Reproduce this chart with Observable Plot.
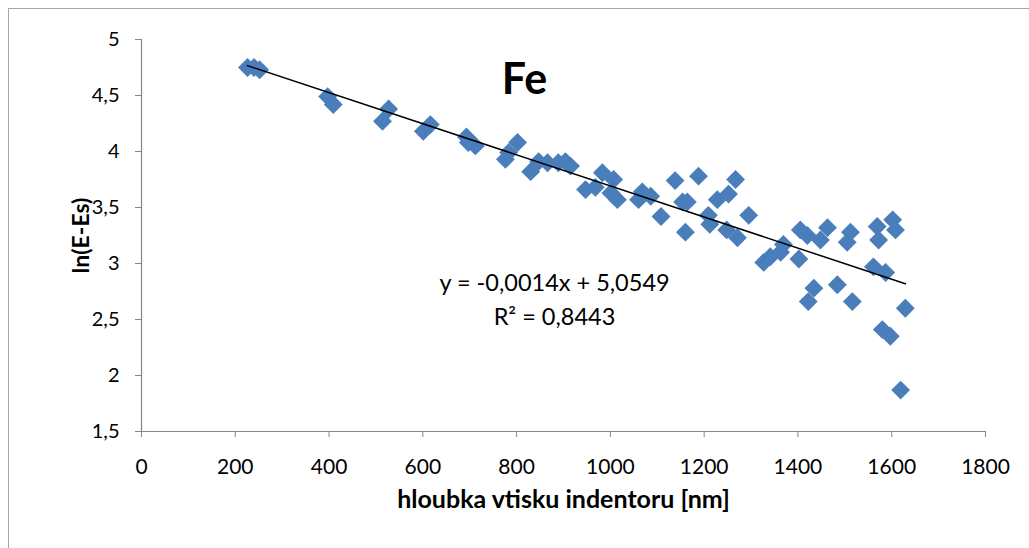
<!DOCTYPE html>
<html>
<head>
<meta charset="utf-8">
<script src="https://cdn.jsdelivr.net/npm/d3@7"></script>
<script src="https://cdn.jsdelivr.net/npm/@observablehq/plot@0.6"></script>
<style>
  html, body { margin: 0; padding: 0; background: #fff; }
  #wrap { position: relative; width: 1029px; height: 548px; overflow: hidden; }
  #frame { position: absolute; left: 8px; top: 8px; width: 1040px; height: 600px;
           border-left: 1px solid #a6a6a6; border-top: 1px solid #a6a6a6; pointer-events: none; }
</style>
</head>
<body>
<div id="wrap"><div id="frame"></div></div>
<script>
// depth of indentation [nm]
const depth = [226, 240, 252, 397, 409, 514, 527, 601, 616, 693, 697, 712, 776, 783, 802,
  830, 847, 866, 889, 904, 915, 947, 968, 983, 1001, 1007, 1015, 1060, 1068, 1086,
  1108, 1138, 1154, 1164, 1160, 1188, 1209, 1212, 1228, 1252, 1267, 1248, 1271, 1295,
  1327, 1341, 1363, 1369, 1402, 1405, 1420, 1422, 1434, 1448, 1463, 1484, 1505, 1512,
  1516, 1561, 1569, 1572, 1580, 1587, 1597, 1602, 1608, 1619, 1629];
// ln(E-Es)
const lnE = [4.75, 4.75, 4.73, 4.49, 4.42, 4.27, 4.38, 4.18, 4.24, 4.13, 4.08, 4.05, 3.93, 3.99, 4.08,
  3.82, 3.91, 3.90, 3.90, 3.91, 3.87, 3.66, 3.68, 3.81, 3.63, 3.75, 3.57, 3.57, 3.64, 3.60,
  3.42, 3.74, 3.55, 3.55, 3.28, 3.78, 3.43, 3.35, 3.57, 3.62, 3.75, 3.30, 3.23, 3.43,
  3.01, 3.06, 3.10, 3.17, 3.04, 3.30, 3.25, 2.66, 2.78, 3.21, 3.32, 2.81, 3.19, 3.28,
  2.66, 2.97, 3.33, 3.21, 2.41, 2.92, 2.35, 3.39, 3.30, 1.87, 2.60];

const xTicks = [0, 200, 400, 600, 800, 1000, 1200, 1400, 1600, 1800];
const yTicks = [1.5, 2, 2.5, 3, 3.5, 4, 4.5, 5];
const titleText = "Fe";
const xTitle = "hloubka vtisku indentoru [nm]";
const yTitle = "ln(E-Es)";
const equation = ["y = -0,0014x + 5,0549", "R² = 0,8443"];

const data = depth.map((d, i) => ({x: d, y: lnE[i]}));
const fmt = d => String(d).replace(".", ",");
const FONT = "Lato, 'Open Sans', sans-serif";
const AX = "#868686";

const chart = Plot.plot({
  width: 1029,
  height: 548,
  marginLeft: 141,
  marginRight: 44,
  marginTop: 39,
  marginBottom: 117,
  style: {fontFamily: FONT, fontSize: "21px", color: "#000", background: "transparent"},
  x: {domain: [0, 1800], ticks: xTicks, tickFormat: fmt, label: null},
  y: {domain: [1.5, 5], ticks: yTicks, tickFormat: fmt, label: null},
  marks: [
    Plot.ruleX([0], {stroke: AX, strokeWidth: 1.2}),
    Plot.ruleY([1.5], {stroke: AX, strokeWidth: 1.2}),
    Plot.axisX({ticks: xTicks, tickFormat: fmt, tickSize: 6, tickPadding: 22, stroke: AX, color: "#000", fontSize: 21, label: null}),
    Plot.axisY({ticks: yTicks, tickFormat: fmt, tickSize: 6, tickPadding: 16, stroke: AX, color: "#000", fontSize: 20, label: null}),
    Plot.dot(data, {x: "x", y: "y", symbol: "diamond2", r: 8.5, fill: "#4a7ebb", stroke: "none"}),
    Plot.linearRegressionY(data, {x: "x", y: "y", stroke: "#000", strokeWidth: 1.5, ci: 0}),
    Plot.text([titleText], {frameAnchor: "top-left", dx: 383, dy: 24, text: d => d, fontSize: 43, fontWeight: "bold", textAnchor: "middle", fill: "#000"}),
    Plot.text([equation[0]], {frameAnchor: "top-left", dx: 413, dy: 235, text: d => d, fontSize: 23.5, textAnchor: "middle", fill: "#000"}),
    Plot.text([equation[1]], {frameAnchor: "top-left", dx: 413, dy: 269, text: d => d, fontSize: 23.5, textAnchor: "middle", fill: "#000"}),
    Plot.text([xTitle], {frameAnchor: "bottom", dy: 76, text: d => d, fontSize: 25, fontWeight: "bold", fill: "#000"}),
    Plot.text([yTitle], {frameAnchor: "left", dx: -60, rotate: -90, textAnchor: "middle", text: d => d, fontSize: 23, fontWeight: "bold", fill: "#000"})
  ]
});
chart.style.position = "absolute";
chart.style.left = "0px";
chart.style.top = "0px";
document.getElementById("wrap").prepend(chart);
</script>
</body>
</html>
